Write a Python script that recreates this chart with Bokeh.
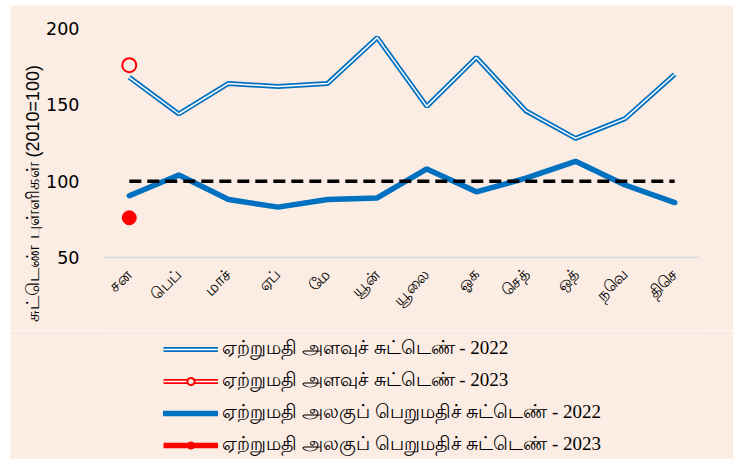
import numpy as np
from bokeh.plotting import figure
from bokeh.layouts import column
from bokeh.models import Legend, LegendItem, Title, Range1d, FactorRange, FixedTicker
from bokeh.embed import file_html
from bokeh.resources import INLINE

# ---- data ----
months = ["சன", "பெப்", "மாச்", "ஏப்", "மே", "யூன்", "யூலை", "ஓக", "செத்", "ஒத்", "நவெ", "திசெ"]
volume_2022 = [168, 144, 164, 162, 164, 194, 149, 181, 146, 128, 141, 170]
unit_value_2022 = [90.5, 104, 88, 83, 88, 89, 108, 93, 102, 113, 97.5, 86]
months_2023 = ["சன"]
volume_2023 = [176]
unit_value_2023 = [76]
base_2010 = [100, 100, 100, 100, 100, 100, 100, 100, 100, 100, 100, 100]
y_ticks = [50, 100, 150, 200]

label_vol_2022 = "ஏற்றுமதி அளவுச் சுட்டெண் - 2022"
label_vol_2023 = "ஏற்றுமதி அளவுச் சுட்டெண் - 2023"
label_uv_2022 = "ஏற்றுமதி அலகுப் பெறுமதிச் சுட்டெண் - 2022"
label_uv_2023 = "ஏற்றுமதி அலகுப் பெறுமதிச் சுட்டெண் - 2023"
y_title = "சுட்டெண் புள்ளிகள் (2010=100)"

BG = "#FBECE4"
BLUE = "#0070C0"
RED = "#FF0000"


def draw_series(fig):
    """Draw all series on a figure; returns renderers for the legend."""
    r = {}
    r["vo"] = fig.line(months, volume_2022, line_color=BLUE, line_width=5)
    r["vi"] = fig.line(months, volume_2022, line_color="white", line_width=1.5)
    r["uv"] = fig.line(months, unit_value_2022, line_color=BLUE, line_width=5.5, line_cap="round")
    r["base"] = fig.line(months, base_2010, line_color="black", line_width=3.5, line_dash="12 6")
    r["v3o"] = fig.line(months_2023, volume_2023, line_color=RED, line_width=5)
    r["v3i"] = fig.line(months_2023, volume_2023, line_color="white", line_width=1.5)
    r["v3m"] = fig.scatter(months_2023, volume_2023, size=14, marker="circle",
                           line_color=RED, line_width=2, fill_color=BG)
    r["u3l"] = fig.line(months_2023, unit_value_2023, line_color=RED, line_width=5.5)
    r["u3m"] = fig.scatter(months_2023, unit_value_2023, size=14, marker="circle",
                           line_color=RED, fill_color=RED)
    return r


p = figure(x_range=FactorRange(*months), y_range=Range1d(50, 200),
           width=723, height=325, output_backend="svg", toolbar_location=None,
           background_fill_color=BG, border_fill_color=BG, outline_line_color=None,
           min_border_left=94, min_border_right=34, min_border_top=23, min_border_bottom=73)
p.margin = (5, 0, 0, 10)

p.xgrid.visible = False
p.ygrid.visible = False

p.yaxis.ticker = FixedTicker(ticks=y_ticks)
p.yaxis.axis_line_color = None
p.yaxis.major_tick_line_color = None
p.yaxis.minor_tick_line_color = None
p.yaxis.major_label_text_font = "DejaVu Sans"
p.yaxis.major_label_text_font_size = "17.5px"
p.yaxis.major_label_text_color = "#000000"
p.yaxis.major_label_standoff = 19

p.xaxis.axis_line_color = "#D9D9D9"
p.xaxis.axis_line_width = 2
p.xaxis.major_tick_line_color = None
p.xaxis.minor_tick_line_color = None
p.xaxis.major_label_orientation = np.pi / 4
p.xaxis.major_label_text_font_size = "16px"
p.xaxis.major_label_text_color = "#000000"
p.xaxis.major_label_standoff = 8

draw_series(p)

p.add_layout(Title(text=y_title, align="left", offset=-64, standoff=2,
                   text_font_size="18px", text_font_style="normal",
                   text_color="#000000"), "left")

# ---- legend panel (separate canvas below the chart; series drawn out of view) ----
lg = figure(width=723, height=129, output_backend="svg", toolbar_location=None,
            x_range=FactorRange(*months), y_range=Range1d(0, 1),
            x_axis_type=None, y_axis_type=None,
            background_fill_color=BG, border_fill_color=BG, outline_line_color=None,
            min_border_left=0, min_border_right=0, min_border_top=0, min_border_bottom=0)
lg.margin = (0, 0, 0, 10)
lg.xgrid.visible = False
lg.ygrid.visible = False

r = draw_series(lg)

legend = Legend(items=[
    LegendItem(label=label_vol_2022, renderers=[r["vo"], r["vi"]]),
    LegendItem(label=label_vol_2023, renderers=[r["v3o"], r["v3i"], r["v3m"]]),
    LegendItem(label=label_uv_2022, renderers=[r["uv"]]),
    LegendItem(label=label_uv_2023, renderers=[r["u3l"], r["u3m"]]),
], location=(59, 2), orientation="vertical",
    glyph_width=55, glyph_height=18, label_height=18, spacing=8,
    label_standoff=4, padding=0, margin=0, border_line_color=None,
    background_fill_alpha=0, label_text_font="Liberation Serif",
    label_text_font_size="19px", label_text_color="#000000")
lg.add_layout(legend, "center")

layout = column(p, lg, spacing=0)
open("out.html", "w").write(file_html(layout, INLINE))
